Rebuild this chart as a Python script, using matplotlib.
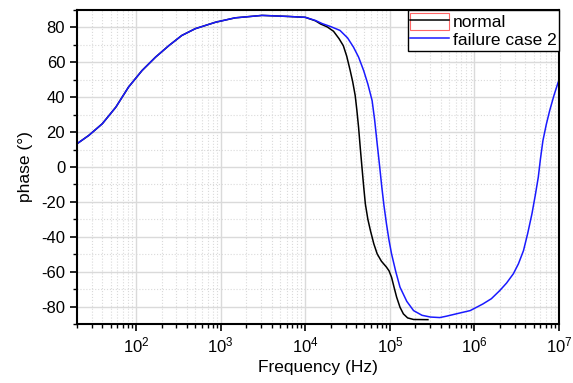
import matplotlib
matplotlib.use('Agg')
import matplotlib.pyplot as plt
from matplotlib.lines import Line2D
from matplotlib.patches import Patch
from matplotlib.ticker import LogLocator, MultipleLocator, NullFormatter
import numpy as np

plt.rcParams['font.family'] = ['Liberation Sans', 'DejaVu Sans']
plt.rcParams['axes.unicode_minus'] = False

# frequencies given as log10(Hz)
# failure case 2 (blue)
logf_fail = [1.30, 1.44, 1.60, 1.76, 1.91, 2.07, 2.23, 2.39, 2.54, 2.70,
             2.94, 3.17, 3.49, 3.80, 4.00, 4.12, 4.20, 4.30, 4.41, 4.50,
             4.57, 4.63, 4.69, 4.74, 4.79, 4.82, 4.85, 4.88, 4.905, 4.93,
             4.96, 4.99, 5.02, 5.07, 5.12, 5.20, 5.28, 5.38, 5.48, 5.59,
             5.67, 5.80, 5.95, 6.10, 6.20, 6.30, 6.38, 6.46, 6.52, 6.58,
             6.63, 6.68, 6.72, 6.755, 6.78, 6.81, 6.85, 6.89, 6.94, 6.99, 7.0]
phase_fail = [13.3, 18.1, 24.8, 34.3, 45.8, 55.3, 63, 69.7, 75.4, 79.3,
              83, 85.5, 86.9, 86.3, 85.8, 84, 82.2, 80.5, 78.3, 74,
              68.7, 63, 55.3, 47.5, 38.1, 27, 13.3, 0, -11.6, -22,
              -32.6, -42, -49.8, -60, -68.9, -77, -82.3, -85, -86, -86.3,
              -85.5, -84, -82.3, -78.5, -75.5, -70.8, -66.5, -61.2, -55.5, -47.9,
              -38, -26.8, -16, -5.8, 4.5, 15.2, 24.5, 32.4, 41, 48.6, 49.5]

# normal (black)
logf_norm = [1.30, 1.44, 1.60, 1.76, 1.91, 2.07, 2.23, 2.39, 2.54, 2.70,
             2.94, 3.17, 3.49, 3.80, 4.00, 4.12, 4.18, 4.26, 4.334, 4.40,
             4.45, 4.49, 4.53, 4.56, 4.59, 4.61, 4.63, 4.65, 4.67, 4.69,
             4.71, 4.74, 4.77, 4.81, 4.85, 4.90, 4.96, 4.99, 5.02, 5.05,
             5.08, 5.12, 5.16, 5.21, 5.28, 5.45]
phase_norm = [13.3, 18.1, 24.8, 34.3, 45.8, 55.3, 63, 69.7, 75.4, 79.3,
              83, 85.5, 86.9, 86.3, 85.8, 83.8, 82, 80.3, 77.8, 73.5,
              69.5, 63.5, 55.5, 49, 41, 32.5, 22.8, 11, -0.1, -11,
              -21.1, -30, -36.4, -44, -49.8, -54, -57.4, -59.5, -63.2, -69,
              -74.6, -80.4, -84.2, -86.5, -87.4, -87.5]

freq_fail = 10 ** np.array(logf_fail)
freq_norm = 10 ** np.array(logf_norm)

fig = plt.figure(figsize=(5.73, 3.83), dpi=100)
ax = fig.add_axes([0.1344, 0.154, 0.8412, 0.8199])

ax.plot(freq_norm, phase_norm, color='black', lw=1.1)
ax.plot(freq_fail, phase_fail, color='#1a1aff', lw=1.1)

ax.set_xscale('log')
ax.set_xlim(20, 1e7)
ax.set_ylim(-90, 90)
ax.xaxis.set_major_locator(LogLocator(base=10, numticks=20))
ax.xaxis.set_minor_locator(LogLocator(base=10, subs=np.arange(2, 10), numticks=20))
ax.xaxis.set_minor_formatter(NullFormatter())
ax.yaxis.set_major_locator(MultipleLocator(20))
ax.yaxis.set_minor_locator(MultipleLocator(10))

ax.grid(which='major', color='#dadada', lw=1.0, ls='-')
ax.grid(which='minor', color='#dadada', lw=0.8, ls=':')
ax.set_axisbelow(True)

for s in ax.spines.values():
    s.set_linewidth(1.5)
ax.tick_params(which='major', direction='out', length=5, width=1.2, labelsize=12)
ax.tick_params(which='minor', direction='out', length=3, width=1.0)

ax.set_xlabel('Frequency (Hz)', fontsize=12.5, labelpad=3)
ax.set_ylabel('phase (°)', fontsize=12.5, labelpad=6)

h_norm = (Patch(facecolor='none', edgecolor='#ff6666', lw=0.8),
          Line2D([], [], color='black', lw=1.1))
h_fail = Line2D([], [], color='#1a1aff', lw=1.1)
leg = ax.legend([h_norm, h_fail], ['normal', 'failure case 2'],
                loc='upper right', borderaxespad=0, fancybox=False,
                edgecolor='black', framealpha=1, fontsize=12.5,
                handlelength=2.25, handleheight=1.15, labelspacing=0.05,
                borderpad=0.15, handletextpad=0.2)
leg.get_frame().set_linewidth(1.0)

fig.savefig('out.png', dpi=100)
